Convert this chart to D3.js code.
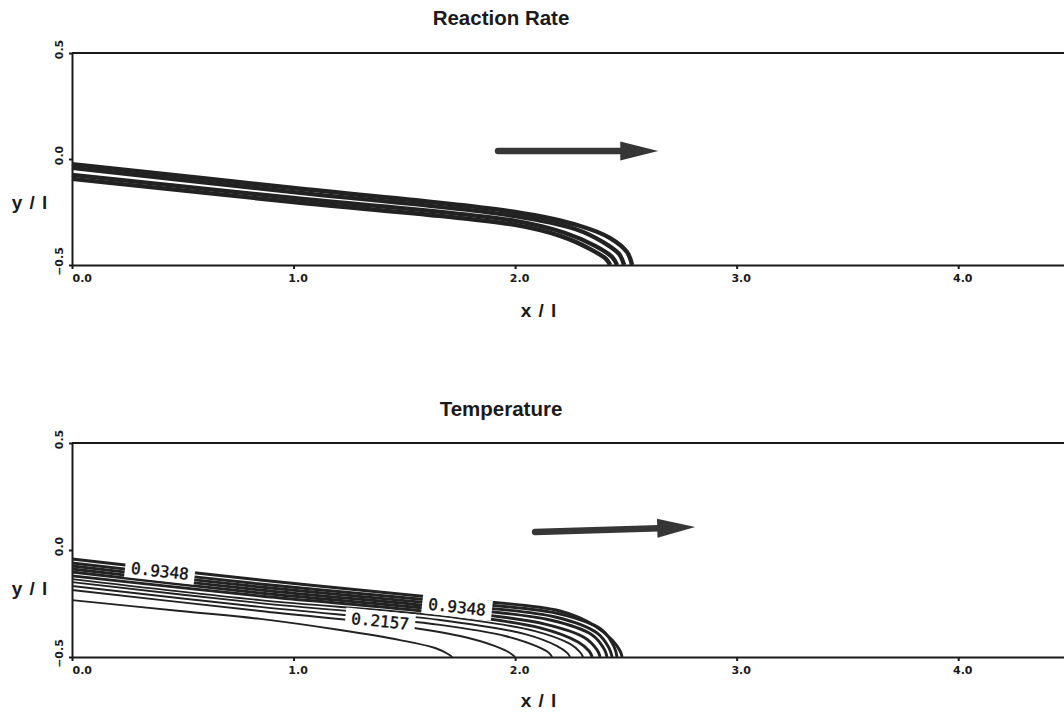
<!DOCTYPE html>
<html>
<head>
<meta charset="utf-8">
<script src="https://cdn.jsdelivr.net/npm/d3@7"></script>
<style>
  body { margin: 0; background: #fff; }
  svg { display: block; }
  .frame { stroke: #1a1a1a; stroke-width: 2; fill: none; }
  .axis path, .axis line { stroke: #1a1a1a; stroke-width: 2; }
  .axis text { font-family: "DejaVu Sans", sans-serif; font-weight: bold; font-size: 11px; fill: #1a1a1a; }
  .title { font-family: "Liberation Sans", Arial, sans-serif; font-weight: bold; font-size: 20.5px; fill: #1a1a1a; }
  .axis-title { font-family: "Liberation Sans", Arial, sans-serif; font-weight: bold; font-size: 19px; letter-spacing: 1px; fill: #1a1a1a; }
  .clabel { font-family: "DejaVu Sans Mono", monospace; font-size: 16px; fill: #111; stroke: #111; stroke-width: 0.4; }
</style>
</head>
<body>
<script>
// Reaction rate / temperature contours of a flame front, x/l vs y/l

// ---- Data ----
const xTicks = [0, 1, 2, 3, 4];
const yTicks = [-0.5, 0, 0.5];
const panelTitles = ["Reaction Rate", "Temperature"];

// reaction rate contours, [x/l, y/l], outermost first
const rateContours = [
  [[0,-0.024],[1.0,-0.137],[2.0,-0.250],[2.294,-0.316],[2.429,-0.373],[2.505,-0.439],[2.528,-0.5]],
  [[0,-0.042],[1.0,-0.156],[2.0,-0.269],[2.271,-0.330],[2.397,-0.392],[2.469,-0.448],[2.492,-0.5]],
  [[0,-0.075],[1.0,-0.184],[2.0,-0.292],[2.226,-0.349],[2.361,-0.410],[2.438,-0.462],[2.460,-0.5]],
  [[0,-0.094],[1.0,-0.203],[2.0,-0.311],[2.203,-0.363],[2.339,-0.425],[2.411,-0.472],[2.429,-0.5]]
];

// temperature contours, innermost (lowest) first
const tempContours = [
  [[0,-0.234],[0.488,-0.285],[0.849,-0.322],[1.210,-0.374],[1.481,-0.421],[1.639,-0.458],[1.697,-0.486],[1.716,-0.5]],
  [[0,-0.187],[0.849,-0.285],[1.481,-0.355],[1.752,-0.402],[1.910,-0.449],[1.977,-0.481],[2.000,-0.5]],
  [[0,-0.168],[0.849,-0.266],[1.661,-0.350],[1.955,-0.402],[2.104,-0.453],[2.153,-0.481],[2.167,-0.5]],
  [[0,-0.150],[0.849,-0.248],[1.661,-0.327],[2.045,-0.393],[2.190,-0.449],[2.235,-0.481],[2.248,-0.5]],
  [[0,-0.136],[0.849,-0.234],[1.661,-0.308],[2.090,-0.379],[2.248,-0.439],[2.293,-0.477],[2.307,-0.5]],
  [[0,-0.121],[0.849,-0.215],[1.661,-0.294],[2.113,-0.364],[2.284,-0.430],[2.334,-0.472],[2.348,-0.5]],
  [[0,-0.103],[0.849,-0.201],[1.661,-0.280],[2.135,-0.346],[2.316,-0.411],[2.370,-0.467],[2.384,-0.5]],
  [[0,-0.089],[0.849,-0.187],[1.661,-0.266],[2.158,-0.327],[2.348,-0.397],[2.402,-0.463],[2.415,-0.5]],
  [[0,-0.075],[0.849,-0.173],[1.661,-0.252],[2.181,-0.313],[2.370,-0.388],[2.424,-0.458],[2.438,-0.5]],
  [[0,-0.061],[0.849,-0.159],[1.661,-0.238],[2.203,-0.299],[2.393,-0.374],[2.447,-0.453],[2.460,-0.5]],
  [[0,-0.042],[0.849,-0.140],[1.661,-0.224],[2.203,-0.285],[2.361,-0.355],[2.438,-0.421],[2.474,-0.472],[2.483,-0.5]]
];

// contour labels: text, position (x/l, y/l), contour it follows
const tempLabels = [
  { text: "0.9348", x: 0.397, y: -0.098, along: 10 },
  { text: "0.9348", x: 1.738, y: -0.266, along: 10 },
  { text: "0.2157", x: 1.391, y: -0.332, along: 2 }
];

// flow direction arrows [from, to] per panel
const arrows = [
  [[1.923, 0.038], [2.646, 0.038]],
  [[2.090, 0.084], [2.813, 0.107]]
];

// ---- Layout ----
const W = 1064, H = 718;
const panels = [
  { yRange: [265, 53],  titleY: 25,  xTitleY: 317, yTitleY: 209, contours: rateContours, labels: [],
    width: () => 4.4 },
  { yRange: [657, 443], titleY: 416, xTitleY: 707, yTitleY: 595, contours: tempContours, labels: tempLabels,
    width: (d, i) => i >= 5 ? 2.9 : 1.9 }
];

const svg = d3.select("body").append("svg")
  .attr("width", W).attr("height", H);

const x = d3.scaleLinear().domain([0, 4.5]).range([72, 1069]);

panels.forEach((p, i) => {
  const y = d3.scaleLinear().domain([-0.5, 0.5]).range(p.yRange);
  const g = svg.append("g");

  // title
  g.append("text").attr("class", "title")
    .attr("x", 501).attr("y", p.titleY)
    .attr("text-anchor", "middle").text(panelTitles[i]);

  // top border
  g.append("line").attr("class", "frame")
    .attr("x1", x(0)).attr("x2", W)
    .attr("y1", y(0.5)).attr("y2", y(0.5));

  // x axis
  const xa = g.append("g").attr("class", "axis")
    .attr("transform", `translate(0,${y(-0.5)})`)
    .call(d3.axisBottom(x).tickValues(xTicks).tickSize(4).tickSizeOuter(0).tickFormat(d3.format(".1f")));
  xa.selectAll("text").attr("y", 9).attr("dx", 4);
  xa.selectAll("text").filter(d => d === 0).attr("text-anchor", "start").attr("dx", 0);

  // y axis, labels turned
  const ya = g.append("g").attr("class", "axis")
    .attr("transform", `translate(${x(0)},0)`)
    .call(d3.axisLeft(y).tickValues(yTicks).tickSize(3).tickSizeOuter(0).tickFormat(d3.format(".1f")));
  ya.selectAll("text")
    .attr("transform", "rotate(-90)")
    .attr("text-anchor", "middle")
    .attr("x", 4).attr("y", -9).attr("dy", 0);

  // axis titles
  g.append("text").attr("class", "axis-title")
    .attr("x", 539).attr("y", p.xTitleY).attr("text-anchor", "middle").text("x / l");
  g.append("text").attr("class", "axis-title")
    .attr("x", 30).attr("y", p.yTitleY).attr("text-anchor", "middle").text("y / l");

  // contours
  const line = d3.line()
    .x(d => x(d[0])).y(d => y(d[1]))
    .curve(d3.curveCatmullRom.alpha(0.5));
  g.append("g").selectAll("path").data(p.contours).enter().append("path")
    .attr("d", line)
    .attr("fill", "none")
    .attr("stroke", "#222")
    .attr("stroke-width", p.width);

  // contour labels on white boxes
  p.labels.forEach(l => {
    const pts = p.contours[l.along];
    let k = pts.findIndex(q => q[0] > l.x);
    if (k < 1) k = 1;
    const a = pts[k - 1], b = pts[k];
    const ang = Math.atan2(y(b[1]) - y(a[1]), x(b[0]) - x(a[0])) * 180 / Math.PI;
    const lg = g.append("g")
      .attr("transform", `translate(${x(l.x)},${y(l.y)}) rotate(${ang})`);
    lg.append("rect")
      .attr("x", -35).attr("y", -10).attr("width", 70).attr("height", 20)
      .attr("fill", "#fff");
    lg.append("text").attr("class", "clabel")
      .attr("text-anchor", "middle").attr("dy", "0.36em")
      .text(l.text);
  });

  // flow arrow
  const [s, e] = arrows[i];
  const x0 = x(s[0]), y0 = y(s[1]), x1 = x(e[0]), y1 = y(e[1]);
  const len = Math.hypot(x1 - x0, y1 - y0), ux = (x1 - x0) / len, uy = (y1 - y0) / len;
  const headL = 38, headW = 9.5;
  const bx = x1 - ux * headL, by = y1 - uy * headL;
  g.append("line")
    .attr("x1", x0).attr("y1", y0).attr("x2", bx + ux * 2).attr("y2", by + uy * 2)
    .attr("stroke", "#363636").attr("stroke-width", 6.5).attr("stroke-linecap", "round");
  g.append("path")
    .attr("d", d3.line()([[x1, y1], [bx - uy * headW, by + ux * headW], [bx + uy * headW, by - ux * headW]]) + "Z")
    .attr("fill", "#363636");
});
</script>
</body>
</html>
